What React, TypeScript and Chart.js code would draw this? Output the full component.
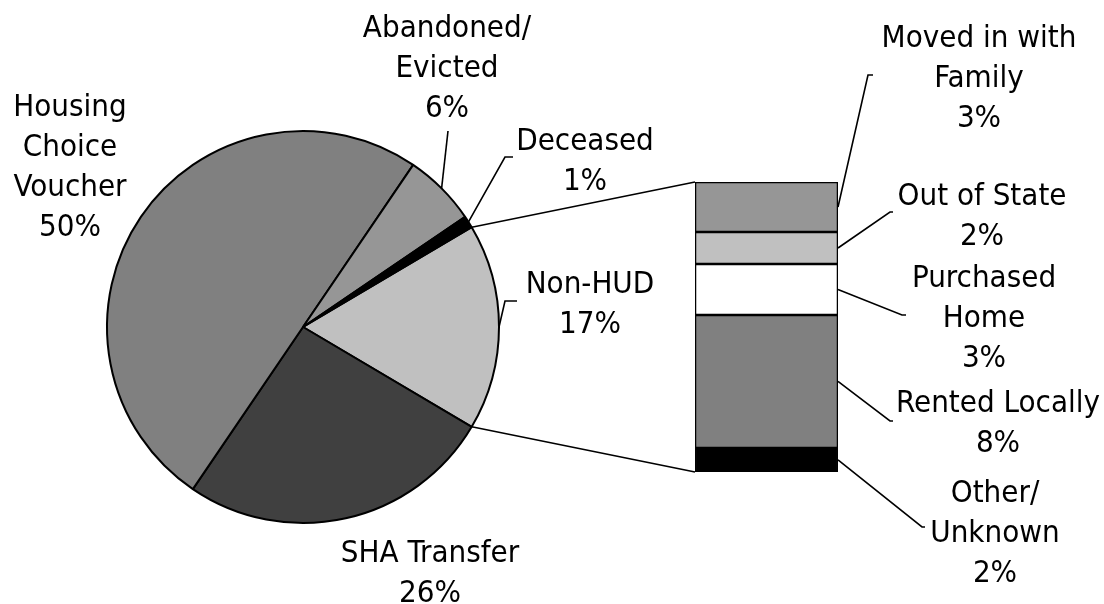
import { useEffect, useRef } from "react";
import { Chart, registerables } from "chart.js";

Chart.register(...registerables);

// ---- Data ----
const pieCategories: string[][] = [["Non-HUD"], ["SHA Transfer"], ["Housing", "Choice", "Voucher"], ["Abandoned/", "Evicted"], ["Deceased"]];
const pieValues = [17, 26, 50, 6, 1];
const pieColors = ["#c0c0c0", "#404040", "#808080", "#969696", "#000000"];

const barCategories: string[][] = [["Other/", "Unknown"], ["Rented Locally"], ["Purchased", "Home"], ["Out of State"], ["Moved in with", "Family"]];
const barValues = [1.41, 7.8, 2.99, 1.88, 2.93];
const barPctLabels = ["2%", "8%", "3%", "2%", "3%"];
const barColors = ["#000000", "#808080", "#ffffff", "#c0c0c0", "#969696"];

// ---- Layout (positions only) ----
const W = 1104;
const H = 604;
const FONT = '31px "DejaVu Sans Condensed", "DejaVu Sans", sans-serif';
const LINE_H = 40;

// label centre x, first baseline y, leader path (from label side toward the mark)
const pieLabelLayout = [
  { x: 590, y: 293, path: [[517, 301], [505, 301]] },
  { x: 430, y: 562, path: null },
  { x: 70, y: 116, path: null },
  { x: 447, y: 37, path: [[448, 131]] },
  { x: 585, y: 150, path: [[513, 157], [505, 157]] },
];
const barLabelLayout = [
  { x: 995, y: 502, path: [[925, 527], [922, 527]] },
  { x: 998, y: 412, path: [[893, 421], [890, 421]] },
  { x: 984, y: 287, path: [[906, 315], [902, 315]] },
  { x: 982, y: 205, path: [[893, 212], [890, 212]] },
  { x: 979, y: 47, path: [[873, 75], [868, 75]] },
];

export default function App() {
  const pieRef = useRef<HTMLCanvasElement | null>(null);
  const barRef = useRef<HTMLCanvasElement | null>(null);

  useEffect(() => {
    if (!pieRef.current || !barRef.current) return;
    const splitIndex = 0;
    const total = pieValues.reduce((a, b) => a + b, 0);
    const rotation = 90 - ((pieValues[splitIndex] / total) * 360) / 2;

    const pie = new Chart(pieRef.current, {
      type: "pie",
      data: {
        labels: pieCategories.map((c) => c.join(" ")),
        datasets: [
          {
            data: pieValues,
            backgroundColor: pieColors,
            borderColor: "#000000",
            borderWidth: 2,
          },
        ],
      },
      options: {
        responsive: false,
        animation: false,
        rotation,
        layout: { padding: { left: 106, top: 130, right: W - 106 - 394, bottom: H - 130 - 394 } },
        plugins: { legend: { display: false }, tooltip: { enabled: false } },
      },
    });

    const barTotal = barValues.reduce((a, b) => a + b, 0);

    const overlay = {
      id: "overlay",
      afterDraw(chart: any) {
        const ctx = chart.ctx as CanvasRenderingContext2D;
        const pieMeta = pie.getDatasetMeta(0);
        const arcs: any[] = pieMeta.data as any[];
        const metas = barValues.map((_, i) => chart.getDatasetMeta(i).data[0] as any);
        const first = metas[0];
        const last = metas[metas.length - 1];
        const barLeft = first.x - first.width / 2;
        const barRight = first.x + first.width / 2;
        const barTop = last.y;
        const barBottom = first.base;

        ctx.save();
        ctx.strokeStyle = "#000";
        ctx.lineWidth = 1.6;
        // connector lines pie -> bar
        const s = arcs[splitIndex];
        const p1 = [s.x + Math.cos(s.startAngle) * s.outerRadius, s.y + Math.sin(s.startAngle) * s.outerRadius];
        const p2 = [s.x + Math.cos(s.endAngle) * s.outerRadius, s.y + Math.sin(s.endAngle) * s.outerRadius];
        ctx.beginPath();
        ctx.moveTo(p1[0], p1[1]);
        ctx.lineTo(barLeft, barTop);
        ctx.moveTo(p2[0], p2[1]);
        ctx.lineTo(barLeft, barBottom);
        ctx.stroke();

        // pie leader lines
        pieLabelLayout.forEach((lay, i) => {
          if (!lay.path) return;
          const a = arcs[i];
          const mid = (a.startAngle + a.endAngle) / 2;
          const ex = a.x + Math.cos(mid) * a.outerRadius;
          const ey = a.y + Math.sin(mid) * a.outerRadius;
          ctx.beginPath();
          ctx.moveTo(lay.path[0][0], lay.path[0][1]);
          for (let k = 1; k < lay.path.length; k++) ctx.lineTo(lay.path[k][0], lay.path[k][1]);
          ctx.lineTo(ex, ey);
          ctx.stroke();
        });

        // bar leader lines
        barLabelLayout.forEach((lay, i) => {
          const m = metas[i];
          const ey = (m.y + m.base) / 2;
          ctx.beginPath();
          ctx.moveTo(lay.path[0][0], lay.path[0][1]);
          for (let k = 1; k < lay.path.length; k++) ctx.lineTo(lay.path[k][0], lay.path[k][1]);
          ctx.lineTo(barRight, ey);
          ctx.stroke();
        });

        // labels
        ctx.fillStyle = "#000";
        ctx.font = FONT;
        ctx.textAlign = "center";
        ctx.textBaseline = "alphabetic";
        const drawLabel = (lines: string[], x: number, y: number) => {
          lines.forEach((t, k) => ctx.fillText(t, x, y + k * LINE_H));
        };
        pieLabelLayout.forEach((lay, i) => {
          drawLabel([...pieCategories[i], `${pieValues[i]}%`], lay.x, lay.y);
        });
        barLabelLayout.forEach((lay, i) => {
          drawLabel([...barCategories[i], barPctLabels[i]], lay.x, lay.y);
        });
        ctx.restore();
      },
    };

    const bar = new Chart(barRef.current, {
      type: "bar",
      data: {
        labels: ["Non-HUD"],
        datasets: barValues.map((v, i) => ({
          label: barCategories[i].join(" "),
          data: [v],
          backgroundColor: barColors[i],
          borderColor: "#000000",
          borderWidth: 1.6,
          borderSkipped: false as any,
          barPercentage: 1,
          categoryPercentage: 1,
        })),
      },
      options: {
        responsive: false,
        animation: false,
        layout: { padding: { left: 695, right: W - 838, top: 182, bottom: H - 472 } },
        scales: {
          x: { stacked: true, display: false },
          y: { stacked: true, display: false, min: 0, max: barTotal },
        },
        plugins: { legend: { display: false }, tooltip: { enabled: false } },
      },
      plugins: [overlay],
    });

    return () => {
      bar.destroy();
      pie.destroy();
    };
  }, []);

  return (
    <div style={{ position: "absolute", left: 0, top: 0, width: W, height: H, background: "#fff" }}>
      <canvas ref={pieRef} width={W} height={H} style={{ position: "absolute", left: 0, top: 0 }} />
      <canvas ref={barRef} width={W} height={H} style={{ position: "absolute", left: 0, top: 0 }} />
    </div>
  );
}
